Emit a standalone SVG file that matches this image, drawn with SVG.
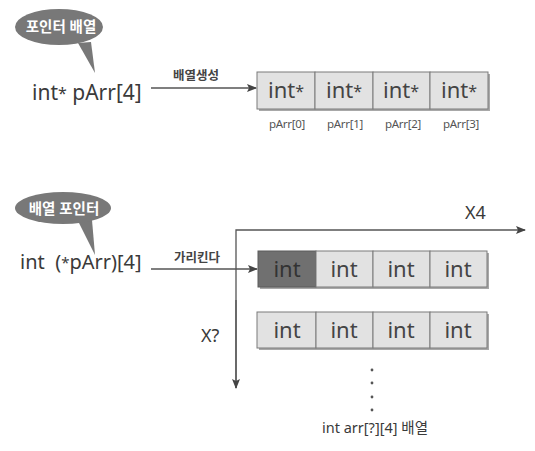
<svg xmlns="http://www.w3.org/2000/svg" width="535" height="451" viewBox="0 0 535 451">
<style>
text{font-family:"Noto Sans","Noto Sans CJK KR",sans-serif;fill:#3a3a3a}
.big{font-size:21px}
.cell{fill:#e2e2e2;stroke:#7a7a7a;stroke-width:1}
.dark{fill:#707070;stroke:#5a5a5a;stroke-width:1}
.shadow{fill:#a8a8a8}
.ct{font-size:22px;text-anchor:middle;fill:#444}
.idx{font-size:11.5px;text-anchor:middle;fill:#555;letter-spacing:-0.3px}
.lbl{font-size:12.5px;font-weight:bold;fill:#444}
.bub{fill:#787878}
.bt{font-size:14.5px;font-weight:bold;fill:#fff;text-anchor:middle}
.ln{stroke:#555;stroke-width:1.3;fill:none}
</style>
<defs>
<marker id="ah" markerWidth="10" markerHeight="8" refX="9" refY="4" orient="auto" markerUnits="userSpaceOnUse">
<path d="M0,0 L10,4 L0,8 L2,4 Z" fill="#444"/>
</marker>
</defs>

<g id="bubble1">
<path class="bub" d="M78,43 L95,73 L91,42 Z"/>
<ellipse class="bub" cx="59" cy="27" rx="44" ry="18"/>
<text class="bt" x="61" y="32">포인터 배열</text>
</g>

<g id="decl1">
<text class="big" x="32" y="100">int<tspan dy="-1" font-size="16">*</tspan><tspan dy="1"> pArr[4]</tspan></text>
</g>

<g id="array1">
<rect class="shadow" x="259" y="74" width="231" height="37"/>
<rect class="cell" x="257" y="72" width="58" height="37"/>
<rect class="cell" x="315" y="72" width="58" height="37"/>
<rect class="cell" x="373" y="72" width="57" height="37"/>
<rect class="cell" x="430" y="72" width="58" height="37"/>
<text class="ct" x="286" y="98">int<tspan font-size="16" dy="-1">*</tspan></text>
<text class="ct" x="344" y="98">int<tspan font-size="16" dy="-1">*</tspan></text>
<text class="ct" x="401" y="98">int<tspan font-size="16" dy="-1">*</tspan></text>
<text class="ct" x="459" y="98">int<tspan font-size="16" dy="-1">*</tspan></text>
<text class="idx" x="287" y="128">pArr[0]</text>
<text class="idx" x="345" y="128">pArr[1]</text>
<text class="idx" x="403" y="128">pArr[2]</text>
<text class="idx" x="461" y="128">pArr[3]</text>
</g>

<g id="bubble2">
<path class="bub" d="M78,221 L95,255 L92,220 Z"/>
<ellipse class="bub" cx="63" cy="208" rx="48" ry="16"/>
<text class="bt" x="64" y="214">배열 포인터</text>
</g>

<g id="decl2">
<text x="20" y="269" font-size="20" xml:space="preserve">int  (<tspan font-size="15" dy="-1">*</tspan><tspan dy="1">pArr)[4]</tspan></text>
</g>

<g id="array2">
<rect class="shadow" x="260" y="253" width="229" height="36"/>
<rect class="dark" x="258" y="251" width="58" height="36"/>
<rect class="cell" x="316" y="251" width="57" height="36"/>
<rect class="cell" x="373" y="251" width="57" height="36"/>
<rect class="cell" x="430" y="251" width="57" height="36"/>
<text class="ct" x="287" y="277" style="fill:#333">int</text>
<text class="ct" x="344" y="277">int</text>
<text class="ct" x="401" y="277">int</text>
<text class="ct" x="458" y="277">int</text>
</g>

<g id="array3">
<rect class="shadow" x="259" y="314" width="230" height="36"/>
<rect class="cell" x="257" y="312" width="59" height="36"/>
<rect class="cell" x="316" y="312" width="57" height="36"/>
<rect class="cell" x="373" y="312" width="57" height="36"/>
<rect class="cell" x="430" y="312" width="57" height="36"/>
<text class="ct" x="287" y="338">int</text>
<text class="ct" x="344" y="338">int</text>
<text class="ct" x="401" y="338">int</text>
<text class="ct" x="458" y="338">int</text>
</g>

<g id="dots">
<circle cx="372" cy="370" r="1.4" fill="#555"/>
<circle cx="372" cy="383" r="1.4" fill="#555"/>
<circle cx="372" cy="397" r="1.4" fill="#555"/>
<circle cx="372" cy="410" r="1.4" fill="#555"/>
<text x="375" y="433" font-size="14.5" text-anchor="middle">int arr[?][4] 배열</text>
</g>

<g id="connectors">
<line class="ln" x1="151" y1="88" x2="256" y2="88" marker-end="url(#ah)"/>
<text class="lbl" x="173" y="80">배열생성</text>
<line class="ln" x1="151" y1="269" x2="257" y2="269" marker-end="url(#ah)"/>
<text class="lbl" x="174" y="262">가리킨다</text>
<path class="ln" d="M236,388 L236,230 L525,230" marker-end="url(#ah)"/>
<line class="ln" x1="236" y1="300" x2="236" y2="388" marker-end="url(#ah)"/>
<text x="465" y="219" font-size="18">X4</text>
<text x="201" y="342" font-size="18">X?</text>
</g>
</svg>
